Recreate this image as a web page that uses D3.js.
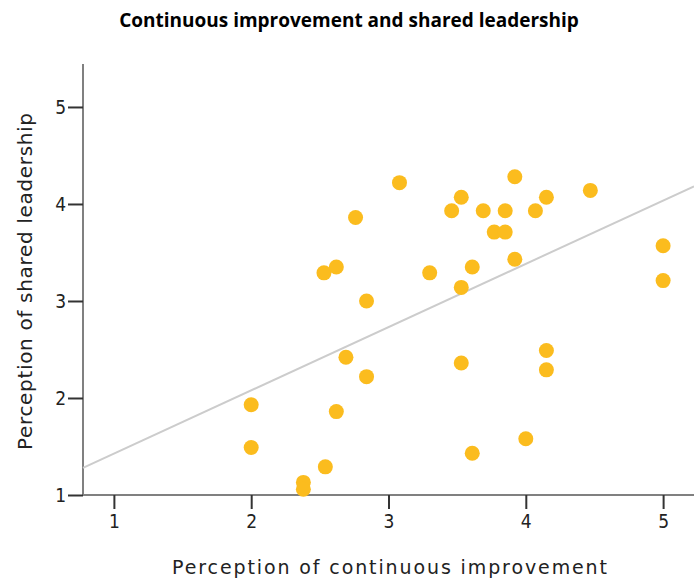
<!DOCTYPE html>
<html>
<head>
<meta charset="utf-8">
<script src="https://cdn.jsdelivr.net/npm/d3@7/dist/d3.min.js"></script>
<style>
  body { margin: 0; background: #fff; }
  svg { display: block; }
  .tick text { font-family: "DejaVu Sans Condensed", "DejaVu Sans", sans-serif; font-size: 19px; fill: #222; }
</style>
</head>
<body>
<svg width="694" height="582"></svg>
<script>
// data
let improvement = [2, 2, 2.38, 2.38, 2.54, 2.62, 2.53, 2.62, 2.69, 2.76, 2.84, 2.84,
    3.08, 3.30, 3.46, 3.53, 3.53, 3.53, 3.61, 3.61, 3.69, 3.77, 3.85, 3.85,
    3.92, 3.92, 4.0, 4.07, 4.15, 4.15, 4.15, 4.47, 5.0, 5.0];
let leadership = [1.93, 1.49, 1.13, 1.06, 1.29, 1.86, 3.29, 3.35, 2.42, 3.86, 3.0, 2.22,
    4.22, 3.29, 3.93, 4.07, 3.14, 2.36, 3.35, 1.43, 3.93, 3.71, 3.93, 3.71,
    4.28, 3.43, 1.58, 3.93, 4.07, 2.49, 2.29, 4.14, 3.57, 3.21];
let xTicks = [1, 2, 3, 4, 5];
let yTicks = [1, 2, 3, 4, 5];
let fitLine = [0.775, 0.652]; // intercept, slope

let svg = d3.select("svg"),
    plotLeft = 83, plotRight = 694, plotTop = 64, plotBottom = 495;

let x = d3.scaleLinear().domain([0.775, 5.225]).range([plotLeft, plotRight]);
let y = d3.scaleLinear().domain([1, 5.443]).range([plotBottom, plotTop]);

// title
svg.append("text")
    .attr("x", 349).attr("y", 27)
    .attr("text-anchor", "middle")
    .style("font-family", "'Open Sans', sans-serif")
    .style("font-weight", "bold")
    .style("font-size", "19px")
    .text("Continuous improvement and shared leadership");

// axes
let xAxis = svg.append("g")
    .attr("transform", "translate(0," + plotBottom + ")")
    .call(d3.axisBottom(x).tickValues(xTicks).tickFormat(d3.format("d"))
        .tickSize(14).tickPadding(6).tickSizeOuter(0));
let yAxis = svg.append("g")
    .attr("transform", "translate(" + plotLeft + ",0)")
    .call(d3.axisLeft(y).tickValues(yTicks).tickFormat(d3.format("d"))
        .tickSize(15).tickPadding(2).tickSizeOuter(0));

[xAxis, yAxis].forEach(a => {
    a.select(".domain").attr("stroke", "#808080").attr("stroke-width", 2);
    a.selectAll(".tick line").attr("stroke", "#333").attr("stroke-width", 2);
});
xAxis.select(".domain").attr("d", "M" + plotLeft + ",0H" + plotRight);
yAxis.select(".domain").attr("d", "M0," + plotTop + "V" + plotBottom);

// fit line
let fit = d => fitLine[0] + fitLine[1] * d;
svg.append("line")
    .attr("x1", x(0.775)).attr("y1", y(fit(0.775)))
    .attr("x2", x(5.225)).attr("y2", y(fit(5.225)))
    .attr("stroke", "#cccccc")
    .attr("stroke-width", 2);

// points
svg.selectAll("circle")
    .data(improvement.map((d, i) => [d, leadership[i]]))
    .enter().append("circle")
    .attr("cx", d => x(d[0]))
    .attr("cy", d => y(d[1]))
    .attr("r", 7.5)
    .attr("fill", "#fbbc1e");

// axis titles
svg.append("text")
    .attr("x", 172).attr("y", 574)
    .style("font-family", "'DejaVu Sans', sans-serif")
    .style("font-size", "19px")
    .attr("textLength", 435)
    .attr("lengthAdjust", "spacing")
    .attr("fill", "#222")
    .text("Perception of continuous improvement");

svg.append("text")
    .attr("transform", "translate(32,450) rotate(-90)")
    .style("font-family", "'DejaVu Sans', sans-serif")
    .style("font-size", "20px")
    .attr("textLength", 337)
    .attr("lengthAdjust", "spacing")
    .attr("fill", "#222")
    .text("Perception of shared leadership");
</script>
</body>
</html>
